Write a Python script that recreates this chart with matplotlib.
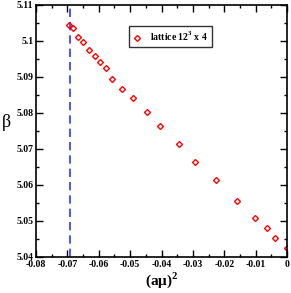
import matplotlib
matplotlib.use("Agg")
import matplotlib.pyplot as plt
from matplotlib.ticker import MultipleLocator

# (a mu)^2 et beta
amu2 = [-0.0695, -0.0683, -0.0667, -0.0649, -0.0632, -0.0613, -0.0597, -0.0577,
        -0.0558, -0.0525, -0.0490, -0.0446, -0.0404, -0.0345, -0.0292, -0.0227,
        -0.0158, -0.0102, -0.0065, -0.0037, 0.0]
beta = [5.1044, 5.1035, 5.1010, 5.0997, 5.0976, 5.0959, 5.0942, 5.0924,
        5.0895, 5.0867, 5.0842, 5.0802, 5.0765, 5.0713, 5.0663, 5.0613,
        5.0556, 5.0509, 5.0481, 5.0452, 5.0424]
x_ligne = -0.0693
legende = r"lattice 12$^{\mathbf{3}}$ x 4"

plt.rcParams["font.family"] = ["Liberation Serif", "DejaVu Serif"]
plt.rcParams["mathtext.fontset"] = "custom"
plt.rcParams["mathtext.rm"] = "Liberation Serif:bold"
plt.rcParams["mathtext.bf"] = "Liberation Serif:bold"

fig = plt.figure(figsize=(2.91, 2.93), dpi=100)
ax = fig.add_axes([0.1237, 0.1229, 0.8626, 0.8601])

ax.axvline(x_ligne, color="#3333ff", linestyle=(0, (5, 3)), linewidth=1.2)
ax.plot(amu2, beta, linestyle="none", marker="D", markersize=3.0,
        markerfacecolor="none", markeredgecolor="red", markeredgewidth=1.0,
        label=legende)

ax.set_xlim(-0.08, 0.0)
ax.set_ylim(5.04, 5.11)
ax.xaxis.set_major_locator(MultipleLocator(0.01))
ax.xaxis.set_minor_locator(MultipleLocator(0.005))
ax.yaxis.set_major_locator(MultipleLocator(0.01))
ax.yaxis.set_minor_locator(MultipleLocator(0.005))
ax.set_xticklabels([f"{v:g}" for v in ax.get_xticks()])
ax.set_yticklabels([f"{v:g}" for v in ax.get_yticks()])
ax.tick_params(which="both", direction="in", top=True, right=True, width=1.0)
ax.tick_params(which="major", length=5, labelsize=7, pad=2)
ax.tick_params(which="minor", length=2.5)
for lab in ax.get_xticklabels() + ax.get_yticklabels():
    lab.set_fontweight("bold")
for s in ax.spines.values():
    s.set_linewidth(1.2)

ax.set_xlabel(r"(a$\mathrm{\mu}$)$^2$", fontsize=11, fontweight="bold", labelpad=1)
ax.set_ylabel("β", fontsize=13, rotation=0, labelpad=7)

leg = ax.legend(loc="upper left", bbox_to_anchor=(0.35, 0.935), fontsize=7,
                frameon=True, fancybox=False, edgecolor="black",
                handlelength=1.0, handletextpad=0.8, borderpad=0.4)
leg.get_frame().set_linewidth(1.0)
for t in leg.get_texts():
    t.set_fontweight("bold")

fig.savefig("out.png", dpi=100)
